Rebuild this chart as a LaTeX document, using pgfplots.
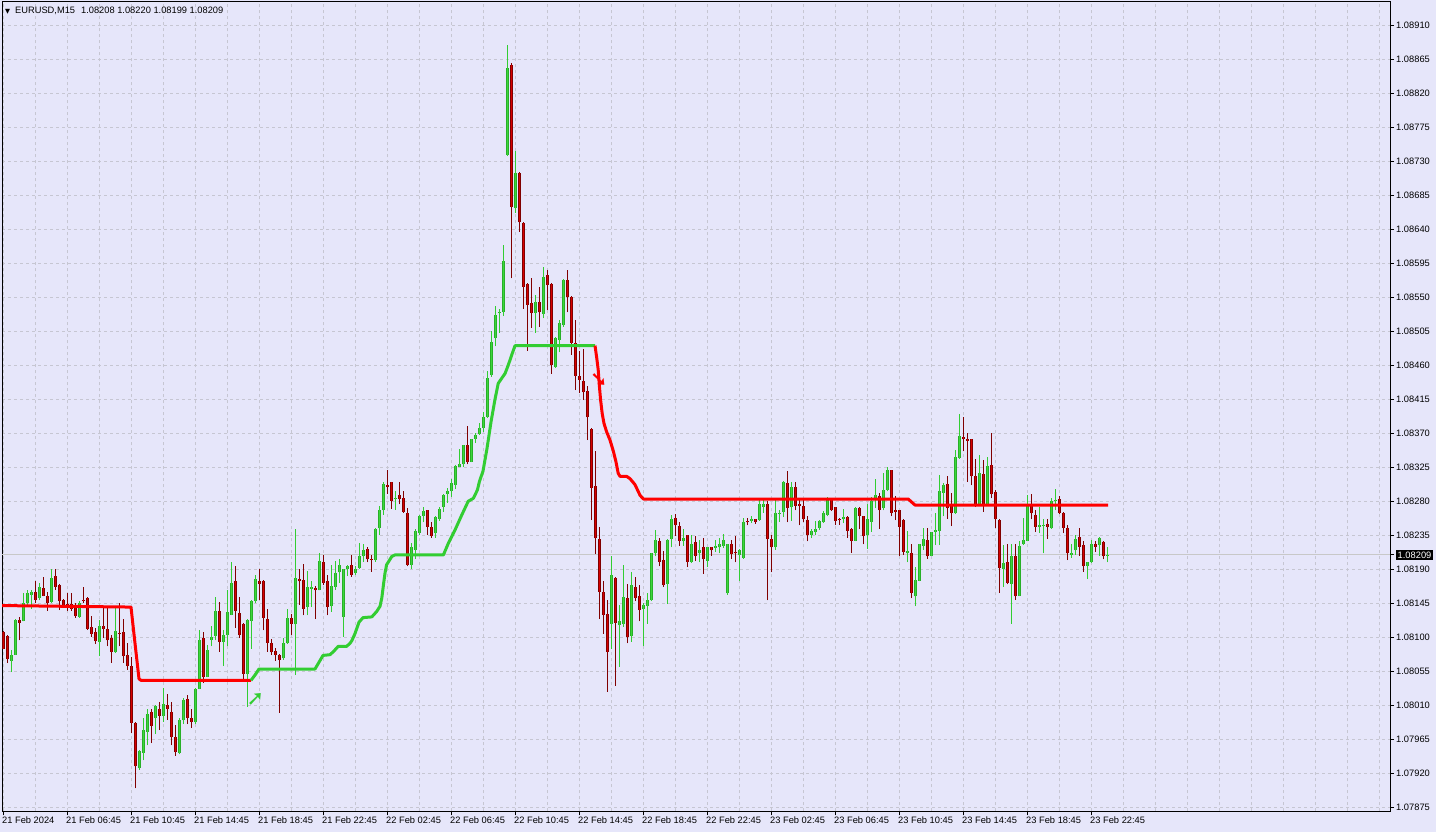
\documentclass[border=0pt]{standalone}
\usepackage{fontspec}
\setmainfont{Liberation Sans}
\newfontfamily\symfont{DejaVu Sans}
\usepackage{pgfplots}
\usepackage{pgfplotstable}
\pgfplotsset{compat=1.18}
\definecolor{bg}{RGB}{230,230,250}
\definecolor{gridc}{RGB}{198,198,210}
\definecolor{bidc}{RGB}{200,200,200}
\definecolor{bullout}{RGB}{40,175,40}
\definecolor{bullin}{RGB}{60,215,60}
\definecolor{bullwick}{RGB}{50,205,50}
\definecolor{bearout}{RGB}{128,0,0}
\definecolor{bearin}{RGB}{215,0,0}
\definecolor{bearwick}{RGB}{128,0,0}
\definecolor{indgreen}{RGB}{50,205,50}
\definecolor{indred}{RGB}{255,0,0}
\newcommand{\lblfont}{\fontsize{9.3bp}{11bp}\selectfont}
\pgfplotsset{candle/.style={only marks, mark=*, mark size=0pt, mark options={draw opacity=0, fill opacity=0}, forget plot}}

\pgfplotstableread{
i o h l c
0 1.08107 1.08108 1.08084 1.08085
1 1.08102 1.08103 1.08066 1.08071
4 1.08123 1.08127 1.08096 1.08119
8 1.08160 1.08174 1.08145 1.08150
10 1.08165 1.08180 1.08154 1.08155
11 1.08155 1.08160 1.08135 1.08146
13 1.08181 1.08191 1.08163 1.08167
14 1.08169 1.08171 1.08136 1.08148
15 1.08150 1.08151 1.08141 1.08143
16 1.08144 1.08159 1.08135 1.08142
17 1.08144 1.08159 1.08135 1.08138
18 1.08141 1.08145 1.08126 1.08128
20 1.08150 1.08166 1.08145 1.08149
21 1.08152 1.08153 1.08110 1.08111
22 1.08113 1.08128 1.08101 1.08105
23 1.08107 1.08112 1.08091 1.08095
25 1.08115 1.08141 1.08099 1.08111
26 1.08111 1.08141 1.08088 1.08096
27 1.08099 1.08103 1.08066 1.08081
29 1.08106 1.08146 1.08088 1.08105
30 1.08107 1.08124 1.08066 1.08075
31 1.08077 1.08092 1.08057 1.08062
32 1.08062 1.08074 1.07973 1.07987
33 1.07987 1.07988 1.07900 1.07929
37 1.08001 1.08005 1.07960 1.07983
39 1.08005 1.08014 1.07977 1.07996
41 1.08010 1.08025 1.07991 1.08005
42 1.08001 1.08014 1.07957 1.07968
43 1.07968 1.07984 1.07943 1.07948
46 1.08018 1.08024 1.07985 1.07993
47 1.07993 1.08005 1.07980 1.07988
50 1.08099 1.08107 1.08040 1.08047
54 1.08135 1.08147 1.08081 1.08094
58 1.08174 1.08194 1.08112 1.08135
59 1.08132 1.08153 1.08099 1.08103
60 1.08118 1.08119 1.08044 1.08052
64 1.08174 1.08191 1.08149 1.08171
65 1.08175 1.08176 1.08109 1.08126
66 1.08124 1.08138 1.08081 1.08093
67 1.08093 1.08098 1.08077 1.08080
68 1.08082 1.08086 1.08069 1.08077
69 1.08077 1.08078 1.08000 1.08070
72 1.08126 1.08131 1.08103 1.08118
74 1.08177 1.08191 1.08143 1.08174
75 1.08176 1.08197 1.08129 1.08138
78 1.08165 1.08168 1.08124 1.08162
80 1.08199 1.08209 1.08169 1.08172
81 1.08174 1.08182 1.08129 1.08140
87 1.08196 1.08209 1.08180 1.08183
91 1.08217 1.08219 1.08199 1.08203
92 1.08204 1.08209 1.08187 1.08202
96 1.08301 1.08321 1.08290 1.08299
97 1.08305 1.08306 1.08270 1.08281
99 1.08288 1.08305 1.08276 1.08283
100 1.08284 1.08294 1.08265 1.08266
101 1.08265 1.08271 1.08194 1.08196
106 1.08268 1.08269 1.08236 1.08246
107 1.08246 1.08252 1.08232 1.08234
116 1.08354 1.08380 1.08329 1.08332
127 1.08857 1.08860 1.08575 1.08670
129 1.08714 1.08716 1.08637 1.08649
130 1.08648 1.08649 1.08535 1.08564
131 1.08568 1.08569 1.08479 1.08540
132 1.08543 1.08576 1.08510 1.08529
134 1.08544 1.08563 1.08511 1.08530
136 1.08580 1.08586 1.08533 1.08566
137 1.08568 1.08569 1.08449 1.08460
141 1.08573 1.08586 1.08530 1.08551
142 1.08551 1.08552 1.08474 1.08490
143 1.08489 1.08520 1.08427 1.08446
144 1.08446 1.08479 1.08423 1.08441
145 1.08439 1.08481 1.08414 1.08424
146 1.08426 1.08433 1.08361 1.08391
147 1.08376 1.08377 1.08255 1.08298
148 1.08300 1.08346 1.08210 1.08231
149 1.08230 1.08246 1.08124 1.08160
150 1.08160 1.08175 1.08105 1.08130
151 1.08131 1.08149 1.08028 1.08081
153 1.08179 1.08180 1.08036 1.08119
156 1.08152 1.08171 1.08092 1.08101
158 1.08166 1.08180 1.08148 1.08152
159 1.08155 1.08169 1.08121 1.08136
164 1.08227 1.08231 1.08194 1.08200
165 1.08202 1.08214 1.08167 1.08169
168 1.08258 1.08263 1.08234 1.08248
169 1.08247 1.08253 1.08221 1.08228
171 1.08235 1.08236 1.08193 1.08200
173 1.08226 1.08234 1.08201 1.08208
175 1.08219 1.08231 1.08184 1.08203
177 1.08219 1.08220 1.08208 1.08215
182 1.08223 1.08229 1.08204 1.08210
183 1.08213 1.08234 1.08199 1.08211
186 1.08254 1.08258 1.08248 1.08252
188 1.08256 1.08257 1.08250 1.08253
191 1.08276 1.08281 1.08149 1.08230
192 1.08230 1.08235 1.08186 1.08219
196 1.08304 1.08320 1.08252 1.08271
198 1.08299 1.08305 1.08268 1.08274
199 1.08276 1.08282 1.08248 1.08274
200 1.08274 1.08285 1.08252 1.08256
201 1.08255 1.08261 1.08227 1.08235
207 1.08282 1.08283 1.08267 1.08268
208 1.08272 1.08273 1.08249 1.08254
209 1.08257 1.08258 1.08249 1.08255
211 1.08259 1.08260 1.08232 1.08241
212 1.08243 1.08244 1.08212 1.08228
214 1.08271 1.08272 1.08243 1.08260
215 1.08260 1.08261 1.08223 1.08234
219 1.08287 1.08291 1.08243 1.08268
222 1.08321 1.08322 1.08260 1.08265
223 1.08268 1.08287 1.08255 1.08266
224 1.08268 1.08269 1.08208 1.08246
225 1.08255 1.08256 1.08209 1.08213
227 1.08212 1.08224 1.08152 1.08159
231 1.08229 1.08245 1.08204 1.08207
236 1.08303 1.08313 1.08257 1.08271
237 1.08275 1.08291 1.08247 1.08264
240 1.08365 1.08391 1.08346 1.08362
241 1.08363 1.08370 1.08306 1.08360
242 1.08362 1.08363 1.08301 1.08313
243 1.08313 1.08336 1.08273 1.08275
245 1.08316 1.08335 1.08266 1.08277
247 1.08328 1.08370 1.08284 1.08289
248 1.08292 1.08295 1.08244 1.08256
249 1.08255 1.08256 1.08159 1.08192
251 1.08199 1.08223 1.08170 1.08172
253 1.08208 1.08224 1.08150 1.08154
257 1.08274 1.08290 1.08256 1.08264
258 1.08262 1.08268 1.08240 1.08246
261 1.08250 1.08256 1.08230 1.08246
264 1.08283 1.08287 1.08263 1.08265
265 1.08265 1.08266 1.08238 1.08245
266 1.08245 1.08249 1.08202 1.08211
269 1.08233 1.08245 1.08208 1.08220
270 1.08222 1.08227 1.08187 1.08194
273 1.08223 1.08228 1.08213 1.08220
275 1.08226 1.08228 1.08203 1.08207
}\beardata

\pgfplotstableread{
i o h l c
2 1.08069 1.08083 1.08054 1.08077
3 1.08077 1.08124 1.08077 1.08123
5 1.08121 1.08158 1.08121 1.08145
6 1.08146 1.08163 1.08141 1.08158
7 1.08156 1.08163 1.08138 1.08160
9 1.08152 1.08172 1.08149 1.08166
12 1.08147 1.08190 1.08146 1.08179
19 1.08127 1.08148 1.08126 1.08146
24 1.08094 1.08123 1.08075 1.08115
28 1.08080 1.08141 1.08079 1.08108
34 1.07927 1.07951 1.07925 1.07949
35 1.07947 1.07993 1.07937 1.07977
36 1.07975 1.08005 1.07957 1.07999
38 1.07993 1.08010 1.07972 1.08009
40 1.07996 1.08033 1.07988 1.08012
44 1.07947 1.07993 1.07945 1.07990
45 1.07990 1.08020 1.07985 1.08017
48 1.07988 1.08033 1.07985 1.08032
49 1.08032 1.08110 1.08031 1.08097
51 1.08048 1.08090 1.08047 1.08083
52 1.08097 1.08115 1.08088 1.08101
53 1.08102 1.08153 1.08096 1.08135
55 1.08094 1.08110 1.08062 1.08103
56 1.08103 1.08163 1.08088 1.08133
57 1.08130 1.08200 1.08129 1.08172
61 1.08052 1.08124 1.08008 1.08123
62 1.08122 1.08149 1.08085 1.08148
63 1.08148 1.08182 1.08145 1.08177
70 1.08072 1.08099 1.08070 1.08093
71 1.08092 1.08137 1.08091 1.08126
73 1.08117 1.08244 1.08050 1.08179
76 1.08140 1.08188 1.08129 1.08166
77 1.08164 1.08175 1.08140 1.08166
79 1.08162 1.08211 1.08162 1.08201
82 1.08141 1.08196 1.08134 1.08168
83 1.08167 1.08201 1.08163 1.08185
84 1.08186 1.08203 1.08172 1.08196
85 1.08127 1.08191 1.08101 1.08191
86 1.08190 1.08196 1.08181 1.08194
88 1.08185 1.08194 1.08183 1.08191
89 1.08192 1.08225 1.08191 1.08208
90 1.08207 1.08224 1.08200 1.08216
93 1.08202 1.08245 1.08200 1.08244
94 1.08244 1.08274 1.08235 1.08268
95 1.08268 1.08306 1.08262 1.08303
98 1.08283 1.08293 1.08269 1.08285
102 1.08196 1.08225 1.08190 1.08219
103 1.08216 1.08243 1.08204 1.08241
104 1.08238 1.08262 1.08235 1.08261
105 1.08261 1.08273 1.08252 1.08267
108 1.08238 1.08260 1.08232 1.08259
109 1.08257 1.08273 1.08254 1.08270
110 1.08273 1.08290 1.08266 1.08289
111 1.08290 1.08297 1.08278 1.08294
112 1.08293 1.08310 1.08286 1.08304
113 1.08302 1.08328 1.08296 1.08327
114 1.08326 1.08349 1.08325 1.08329
115 1.08329 1.08355 1.08325 1.08354
117 1.08332 1.08363 1.08332 1.08362
118 1.08363 1.08370 1.08357 1.08368
119 1.08369 1.08384 1.08368 1.08377
120 1.08377 1.08398 1.08372 1.08392
121 1.08392 1.08452 1.08390 1.08443
122 1.08447 1.08505 1.08445 1.08491
123 1.08496 1.08538 1.08485 1.08527
124 1.08529 1.08535 1.08503 1.08531
125 1.08531 1.08619 1.08525 1.08598
126 1.08738 1.08884 1.08737 1.08853
128 1.08668 1.08744 1.08662 1.08715
133 1.08529 1.08553 1.08503 1.08544
135 1.08528 1.08590 1.08522 1.08577
138 1.08458 1.08498 1.08457 1.08496
139 1.08494 1.08520 1.08477 1.08516
140 1.08513 1.08574 1.08511 1.08573
152 1.08118 1.08207 1.08085 1.08182
154 1.08116 1.08143 1.08061 1.08121
155 1.08118 1.08196 1.08114 1.08153
157 1.08102 1.08187 1.08094 1.08169
160 1.08138 1.08146 1.08088 1.08143
161 1.08142 1.08159 1.08118 1.08150
162 1.08149 1.08212 1.08148 1.08211
163 1.08211 1.08242 1.08207 1.08229
166 1.08171 1.08230 1.08144 1.08229
167 1.08230 1.08262 1.08219 1.08256
170 1.08227 1.08243 1.08221 1.08232
172 1.08199 1.08235 1.08198 1.08224
174 1.08211 1.08229 1.08199 1.08216
176 1.08201 1.08220 1.08193 1.08219
178 1.08218 1.08229 1.08213 1.08221
179 1.08219 1.08232 1.08211 1.08224
180 1.08221 1.08237 1.08218 1.08229
181 1.08158 1.08224 1.08156 1.08224
184 1.08209 1.08217 1.08175 1.08216
185 1.08205 1.08258 1.08204 1.08253
187 1.08254 1.08261 1.08251 1.08256
189 1.08255 1.08282 1.08254 1.08276
190 1.08273 1.08282 1.08265 1.08277
193 1.08219 1.08282 1.08216 1.08264
194 1.08263 1.08269 1.08253 1.08265
195 1.08266 1.08307 1.08259 1.08305
197 1.08272 1.08306 1.08254 1.08299
202 1.08236 1.08244 1.08231 1.08241
203 1.08240 1.08254 1.08235 1.08243
204 1.08245 1.08255 1.08242 1.08254
205 1.08252 1.08267 1.08251 1.08264
206 1.08262 1.08286 1.08260 1.08283
210 1.08256 1.08270 1.08251 1.08259
213 1.08228 1.08272 1.08227 1.08271
216 1.08236 1.08276 1.08217 1.08256
217 1.08253 1.08286 1.08240 1.08281
218 1.08284 1.08309 1.08271 1.08288
220 1.08271 1.08317 1.08268 1.08295
221 1.08295 1.08326 1.08293 1.08321
226 1.08211 1.08241 1.08199 1.08214
228 1.08154 1.08193 1.08141 1.08176
229 1.08175 1.08224 1.08174 1.08223
230 1.08221 1.08245 1.08216 1.08230
232 1.08208 1.08240 1.08207 1.08239
233 1.08240 1.08265 1.08222 1.08242
234 1.08241 1.08315 1.08222 1.08294
235 1.08291 1.08304 1.08260 1.08302
238 1.08264 1.08348 1.08263 1.08339
239 1.08337 1.08396 1.08336 1.08366
244 1.08277 1.08341 1.08276 1.08318
246 1.08277 1.08339 1.08275 1.08327
250 1.08191 1.08222 1.08167 1.08198
252 1.08171 1.08223 1.08118 1.08208
254 1.08155 1.08228 1.08154 1.08221
255 1.08223 1.08258 1.08222 1.08229
256 1.08228 1.08288 1.08227 1.08274
259 1.08246 1.08273 1.08238 1.08249
260 1.08247 1.08257 1.08211 1.08248
262 1.08244 1.08284 1.08243 1.08280
263 1.08280 1.08296 1.08268 1.08282
267 1.08209 1.08224 1.08205 1.08212
268 1.08215 1.08235 1.08209 1.08230
271 1.08195 1.08200 1.08177 1.08199
272 1.08199 1.08229 1.08198 1.08223
274 1.08222 1.08233 1.08208 1.08231
276 1.08208 1.08220 1.08199 1.08209
}\bulldata

\begin{document}
\begin{tikzpicture}
\fill[bg] (-2bp,-20.7bp) rectangle (1434bp,811.3bp);
\begin{axis}[
  at={(0,0)}, anchor=south west,
  scale only axis, width=1388bp, height=809.8bp,
  xmin=-0.25, xmax=346.75, ymin=1.078697, ymax=1.089415,
  axis background/.style={fill=bg},
  axis line style={black, line width=1bp},
  tick align=outside, major tick length=4bp, minor tick length=0pt,
  tick style={black, line width=1bp},
  xtick pos=left, ytick pos=right, yticklabel pos=right,
  xtick={0,16,...,272},
  xticklabels={21 Feb 2024, 21 Feb 06:45, 21 Feb 10:45, 21 Feb 14:45, 21 Feb 18:45, 21 Feb 22:45, 22 Feb 02:45, 22 Feb 06:45, 22 Feb 10:45, 22 Feb 14:45, 22 Feb 18:45, 22 Feb 22:45, 23 Feb 02:45, 23 Feb 06:45, 23 Feb 10:45, 23 Feb 14:45, 23 Feb 18:45, 23 Feb 22:45},
  minor xtick={8,24,...,264,280,288,...,344},
  ytick={1.07875,1.0792,1.07965,1.0801,1.08055,1.081,1.08145,1.0819,1.08235,1.0828,1.08325,1.0837,1.08415,1.0846,1.08505,1.0855,1.08595,1.0864,1.08685,1.0873,1.08775,1.0882,1.08865,1.0891},
  yticklabels={1.07875,1.07920,1.07965,1.08010,1.08055,1.08100,1.08145,1.08190,1.08235,1.08280,1.08325,1.08370,1.08415,1.08460,1.08505,1.08550,1.08595,1.08640,1.08685,1.08730,1.08775,1.08820,1.08865,1.08910},
  xmajorgrids, xminorgrids, ymajorgrids,
  major grid style={gridc, dash pattern=on 3bp off 3bp, line width=1bp},
  minor grid style={gridc, dash pattern=on 3bp off 3bp, line width=1bp},
  xticklabel style={font=\lblfont, anchor=north west, inner sep=0pt, xshift=-1bp, yshift=-1bp},
  yticklabel style={font=\lblfont, anchor=west, inner sep=0pt, xshift=2bp},
  extra y ticks={1.08209}, extra y tick labels={1.08209},
  extra y tick style={grid=none, yticklabel style={fill=black, text=white, inner xsep=1.5bp, inner ysep=1.5bp}},
]
% bid line
\addplot[bidc, line width=1bp, forget plot] coordinates {(-0.25,1.08209) (346.75,1.08209)};
% bear candles
\addplot[candle, error bars/.cd, y dir=plus, y explicit, error mark=none, error bar style={bearwick, line width=1bp}]
  table[x=i, y=l, y error plus expr={\thisrow{h}-\thisrow{l}}] {\beardata};
\addplot[candle, error bars/.cd, y dir=plus, y explicit, error mark=none, error bar style={bearout, line width=3bp}]
  table[x=i, y=c, y error plus expr={\thisrow{o}-\thisrow{c}}] {\beardata};
\addplot[candle, error bars/.cd, y dir=plus, y explicit, error mark=none, error bar style={bearin, line width=1bp}]
  table[x=i, y=c, y error plus expr={\thisrow{o}-\thisrow{c}}] {\beardata};
% bull candles
\addplot[candle, error bars/.cd, y dir=plus, y explicit, error mark=none, error bar style={bullwick, line width=1bp}]
  table[x=i, y=l, y error plus expr={\thisrow{h}-\thisrow{l}}] {\bulldata};
\addplot[candle, error bars/.cd, y dir=plus, y explicit, error mark=none, error bar style={bullout, line width=3bp}]
  table[x=i, y=o, y error plus expr={\thisrow{c}-\thisrow{o}}] {\bulldata};
\addplot[candle, error bars/.cd, y dir=plus, y explicit, error mark=none, error bar style={bullin, line width=1bp}]
  table[x=i, y=o, y error plus expr={\thisrow{c}-\thisrow{o}}] {\bulldata};
% trend lines
\addplot[indred, line width=3bp, line join=round, mark=none] coordinates {
 (-0.5,1.08142) (32,1.08140) (33,1.08092) (34,1.08045) (34.5,1.08043) (62,1.08043)};
\addplot[indgreen, line width=3bp, line join=round, mark=none] coordinates {
 (62,1.08043) (63,1.08050) (64,1.08058) (78,1.08058) (79,1.08067) (80,1.08076) (81.75,1.08077)
 (82.6,1.08081) (83.8,1.08088) (85.9,1.08088) (86.75,1.08092) (87.25,1.08096) (88,1.08105)
 (89,1.08120) (90,1.08126) (92.2,1.08127) (93.4,1.08134) (94.25,1.08141) (94.7,1.08152)
 (95.1,1.08169) (95.5,1.08185) (95.9,1.08196) (97.2,1.08207) (98,1.08209) (110.1,1.08209)
 (111.3,1.08224) (113,1.08242) (114.7,1.08262) (116.3,1.08280) (117.6,1.08284) (118.6,1.08295)
 (119.1,1.08306) (120,1.08320) (121,1.08350) (122,1.08385) (123,1.08415) (123.8,1.08436)
 (124.7,1.08443) (125.5,1.08449) (126.3,1.08460) (127.2,1.08474) (128,1.08486) (148,1.08486)};
\addplot[indred, line width=3bp, line join=round, mark=none] coordinates {
 (148,1.08486) (148.4,1.08471) (148.8,1.08454) (149.1,1.08432) (149.4,1.08414) (149.8,1.08396)
 (150.25,1.08383) (150.9,1.08372) (151.75,1.08361) (152.6,1.08346) (153.25,1.08332) (153.8,1.08317)
 (154.25,1.08313) (155.9,1.08313) (156.75,1.08310) (158,1.08302) (159.25,1.08288) (160.1,1.08283)
 (226.3,1.08283) (228,1.08275) (276.3,1.08275)};
% signal arrows
\addplot[only marks, mark=text, text mark as node=true, text mark={\symfont\bfseries ➚}, text mark style={font=\fontsize{21bp}{21bp}\selectfont, text=indgreen, inner sep=0pt}] coordinates {(63.1,1.08018)};
\addplot[only marks, mark=text, text mark as node=true, text mark={\symfont\bfseries ➘}, text mark style={font=\fontsize{21bp}{21bp}\selectfont, text=indred, inner sep=0pt}] coordinates {(149,1.08440)};
% header
\node[anchor=west, inner sep=0pt, font=\lblfont, xshift=3bp, yshift=-9.5bp] at (rel axis cs:0,1)
  {{\symfont\fontsize{6.5bp}{7bp}\selectfont ▼}\hspace{5bp}EURUSD,M15\hspace{6bp}1.08208 1.08220 1.08199 1.08209};
\end{axis}
\pgfresetboundingbox
\useasboundingbox (-2bp,-20.7bp) rectangle (1434bp,811.3bp);
\end{tikzpicture}
\end{document}
